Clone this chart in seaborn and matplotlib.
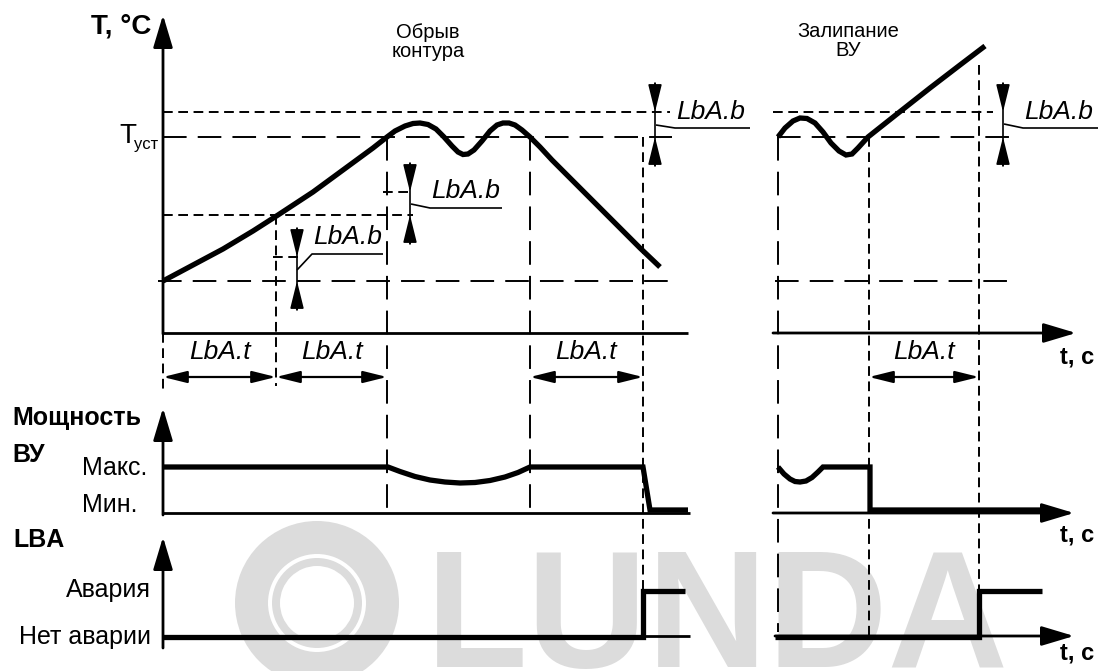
import matplotlib
matplotlib.use("Agg")
import matplotlib.pyplot as plt
from matplotlib.patches import Wedge
import seaborn as sns

sns.set_theme(style="white")
plt.rcParams["font.family"] = ["Liberation Sans", "DejaVu Sans"]
plt.rcParams["lines.scale_dashes"] = False
plt.rcParams["lines.solid_capstyle"] = "butt"

W, H = 1098, 671  # drawing canvas, one unit per pixel, y grows downward

# ---- temperature: loop break ("Обрыв контура")
fault_t = [163, 193, 223, 253, 278, 313, 343, 373, 387, 395, 405, 413, 420, 428,
           436, 444, 452, 458, 463, 468, 474, 482, 490, 497, 503, 509, 515, 522,
           530, 540, 552, 565, 580, 600, 620, 640, 660]
fault_T = [281, 265, 249, 231, 215, 192, 170, 148, 137, 131, 126, 123.5, 123, 124.5,
           129, 137, 146, 152, 154.5, 154, 150, 141, 131, 125, 123, 123, 125, 130,
           137, 147, 160, 173, 188, 208, 228, 248, 267]

# ---- temperature: stuck actuator ("Залипание ВУ")
stuck_t = [778, 785, 793, 800, 807, 815, 823, 831, 839, 846, 852, 858, 868, 897, 930, 960, 985]
stuck_T = [137, 128, 121, 118, 118.5, 123, 132, 143, 151, 155, 154, 148, 137, 114, 88, 65, 46]

# ---- actuator power
pow_fault_t = [163, 388, 400, 415, 430, 445, 460, 475, 490, 505, 518, 530, 643, 650, 688]
pow_fault_P = [467, 467, 471.5, 476.5, 480, 482, 483, 482.5, 480.5, 477, 472.5, 467, 467, 510, 510]
pow_stuck_t = [778, 784, 790, 795, 800, 806, 812, 818, 823, 870, 870, 1045]
pow_stuck_P = [467, 474, 479, 481.5, 482, 481, 477.5, 472, 467, 467, 510, 510]

# ---- LBA alarm state
lba_fault_t = [163, 643, 643, 685]
lba_fault_v = [637, 637, 591, 591]
lba_stuck_t = [775, 979, 979, 1042]
lba_stuck_v = [637, 637, 591, 591]

# ---- characteristic levels and moments
T_hi, T_set, T_mid, T_start = 112, 137, 215, 281
band_ticks = [257, 192]
events_fault = [276, 387, 530, 643]
events_stuck = [778, 869, 979]

power_levels = ["Макс.", "Мин."]
lba_levels = ["Авария", "Нет аварии"]
band_label, time_label = "LbA.b", "LbA.t"

LONG = (0, (17, 8))
SHORT = (0, (7, 4))
K = "black"

fig = plt.figure(figsize=(W / 100, H / 100), dpi=100)
ax = fig.add_axes([0, 0, 1, 1])
ax.set_axis_off()

# watermark
wm = "#dcdcdc"
ax.add_patch(Wedge((317, 603), 82, 0, 360, width=33, color=wm, zorder=0, lw=0))
ax.add_patch(Wedge((317, 603), 45, 0, 360, width=8, color=wm, zorder=0, lw=0))
ax.text(426, 667, "LUNDA", fontsize=120, fontweight="bold", color=wm,
        ha="left", va="baseline", zorder=0)


def seg(xs, ys, ls="-", lw=1.4):
    ax.plot(xs, ys, color=K, lw=lw, linestyle=ls, zorder=2)


def arrow(start, tip, lw=2.0, hl=2.0, hw=0.6):
    ax.annotate("", xy=tip, xytext=start, zorder=3,
                arrowprops=dict(arrowstyle=f"-|>,head_length={hl},head_width={hw}",
                                mutation_scale=10, color=K, lw=lw,
                                shrinkA=0, shrinkB=0))


def dim(x0, x1, y):
    ax.annotate("", xy=(x1, y), xytext=(x0, y), zorder=3,
                arrowprops=dict(arrowstyle="<|-|>,head_length=1.45,head_width=0.36",
                                mutation_scale=10, color=K, lw=1.6,
                                shrinkA=0, shrinkB=0))


def seven_seg(x, y, s):
    ax.text(x, y, s, fontsize=19, fontstyle="italic", ha="center", va="center",
            color=K, zorder=4)


# ---------------- axes ----------------
# temperature
arrow((163, 334), (163, 15))
seg([163, 688], [333, 333], lw=2.0)
arrow((773, 333), (1076, 333))
# power
arrow((163, 515), (163, 408))
seg([163, 690], [513, 513], lw=2.0)
arrow((773, 513), (1074, 513))
# LBA
arrow((163, 648), (163, 537))
seg([163, 690], [636, 636], lw=2.0)
arrow((775, 636), (1074, 636))

# ---------------- guide lines ----------------
seg([163, 670], [T_hi, T_hi], SHORT)
seg([773, 993], [T_hi, T_hi], SHORT)
seg([163, 672], [T_set, T_set], LONG)
seg([777, 1018], [T_set, T_set], LONG)
seg([163, 413], [T_mid, T_mid], SHORT)
seg([158, 670], [T_start, T_start], LONG)
seg([775, 1007], [T_start, T_start], LONG)
seg([273, 300], [band_ticks[0]] * 2, SHORT)
seg([383, 413], [band_ticks[1]] * 2, SHORT)

seg([163, 163], [333, 390], SHORT)
seg([events_fault[0]] * 2, [T_mid, 386], SHORT)
seg([events_fault[1]] * 2, [T_set, 515], LONG)
seg([events_fault[2]] * 2, [T_set, 515], LONG)
seg([events_fault[3]] * 2, [T_set, 600], SHORT)
seg([events_stuck[0]] * 2, [T_set, 632], LONG)
seg([events_stuck[1]] * 2, [T_set, 636], SHORT)
seg([events_stuck[2]] * 2, [65, 591], SHORT)

# ---------------- signals ----------------
for xs, ys in [(fault_t, fault_T), (stuck_t, stuck_T),
               (pow_fault_t, pow_fault_P), (pow_stuck_t, pow_stuck_P),
               (lba_fault_t, lba_fault_v), (lba_stuck_t, lba_stuck_v)]:
    sns.lineplot(x=xs, y=ys, sort=False, estimator=None, color=K, linewidth=3.8,
                 ax=ax, zorder=3, solid_joinstyle="miter", solid_capstyle="butt")

# ---------------- LbA.b bands ----------------
for x, top, bot, lead, txt in [
    (297, 257, T_start, [(297, 270), (312, 254), (383, 254)], (348, 237)),
    (410, band_ticks[1], T_mid, [(411, 204), (430, 208), (502, 208)], (466, 191)),
    (655, T_hi, T_set, [(656, 125), (675, 128), (750, 128)], (711, 112)),
    (1003, T_hi, T_set, [(1004, 124), (1023, 128), (1098, 128)], (1059, 112)),
]:
    seg([x, x], [top - 29, bot + 29], lw=1.2)
    arrow((x, top - 29), (x, top), lw=1.2, hl=1.7, hw=0.42)
    arrow((x, bot + 29), (x, bot), lw=1.2, hl=1.7, hw=0.42)
    seg([p[0] for p in lead], [p[1] for p in lead], lw=1.2)
    seven_seg(txt[0], txt[1], band_label)

# ---------------- LbA.t intervals ----------------
for x0, x1 in [(163, events_fault[0]), (events_fault[0], events_fault[1]),
               (events_fault[2], events_fault[3]), (events_stuck[1], events_stuck[2])]:
    dim(x0, x1, 377)
    seven_seg((x0 + x1) / 2, 352, time_label)

# ---------------- text ----------------
bold = dict(fontweight="bold", color=K, zorder=4)
ax.text(121, 27, "T, °C", fontsize=20, ha="center", va="center", **bold)
ax.text(119, 136, "T", fontsize=20, ha="left", va="center", color=K)
ax.text(134, 145, "уст", fontsize=12, ha="left", va="center", color=K)
ax.text(428, 42, "Обрыв\nконтура", fontsize=14.5, ha="center", va="center",
        linespacing=0.95, color=K)
ax.text(848, 41, "Залипание\nВУ", fontsize=14.5, ha="center", va="center",
        linespacing=0.95, color=K)

ax.text(12, 418, "Мощность", fontsize=18, ha="left", va="center", **bold)
ax.text(12, 455, "ВУ", fontsize=18, ha="left", va="center", **bold)
ax.text(13, 540, "LBA", fontsize=18, ha="left", va="center", **bold)
ax.text(82, 468, power_levels[0], fontsize=18, ha="left", va="center", color=K)
ax.text(82, 505, power_levels[1], fontsize=18, ha="left", va="center", color=K)
ax.text(151, 590, lba_levels[0], fontsize=18, ha="right", va="center", color=K)
ax.text(151, 637, lba_levels[1], fontsize=18, ha="right", va="center", color=K)
for y in (357, 535, 653):
    ax.text(1060, y, "t, c", fontsize=17, ha="left", va="center", **bold)

ax.set_xlim(0, W)
ax.set_ylim(H, 0)
fig.savefig("out.png", dpi=100, facecolor="white")
